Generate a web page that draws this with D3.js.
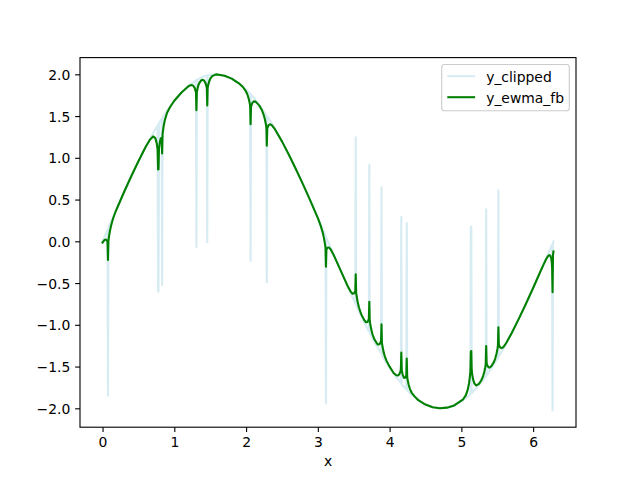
<!DOCTYPE html>
<html><head><meta charset="utf-8">
<script src="https://cdn.jsdelivr.net/npm/d3@7"></script>
<style>body{margin:0;background:#fff}svg{display:block}text{font-family:"DejaVu Sans",sans-serif}</style>
</head><body><svg id="c" width="640" height="480"></svg>
<script>
const clippedX = [0,0.0692,0.0755,0.0818,0.1,0.2,0.3,0.4,0.5,0.6,0.7,0.7673,0.7736,0.7799,0.7862,0.8,0.8239,0.8302,0.8365,0.9,1.0,1.1,1.2,1.3,1.302,1.308,1.314,1.4,1.453,1.459,1.465,1.5,1.6,1.7,1.8,1.9,2.0,2.057,2.063,2.069,2.1,2.2,2.283,2.289,2.295,2.3,2.4,2.5,2.6,2.7,2.8,2.9,3.0,3.1,3.107,3.113,3.119,3.2,3.3,3.4,3.5,3.522,3.528,3.534,3.6,3.7,3.711,3.717,3.723,3.8,3.881,3.887,3.893,3.9,4.0,4.1,4.157,4.163,4.169,4.2,4.232,4.239,4.245,4.3,4.4,4.5,4.6,4.7,4.8,4.9,5.0,5.1,5.1255,5.1318,5.1381,5.1444,5.2,5.3,5.339,5.3456,5.352,5.4,5.5,5.509,5.5157,5.522,5.6,5.7,5.8,5.9,6.0,6.1,6.2,6.2643,6.2706,6.2769,6.2832];
const clippedY = [0,0.138,-1.849,0.163,0.200,0.397,0.591,0.779,0.959,1.129,1.288,1.388,-0.603,-0.594,1.415,1.435,1.467,-0.524,1.484,1.567,1.683,1.782,1.864,1.927,1.928,-0.069,1.934,1.971,1.986,-0.012,1.989,1.995,1.999,1.983,1.948,1.893,1.819,1.768,-0.237,1.757,1.726,1.617,1.512,-0.494,1.498,1.491,1.351,1.197,1.031,0.855,0.670,0.478,0.282,0.083,0.069,-1.943,0.045,-0.117,-0.315,-0.511,-0.701,-0.742,1.245,-0.764,-0.885,-1.061,-1.078,0.915,-1.095,-1.224,-1.339,0.646,-1.363,-1.375,-1.514,-1.636,-1.695,0.293,-1.713,-1.743,-1.773,0.220,-1.784,-1.832,-1.903,-1.955,-1.987,-2.000,-1.992,-1.965,-1.918,-1.852,-1.830,0.174,0.179,-1.816,-1.766,-1.664,-1.620,0.385,-1.604,-1.545,-1.411,-1.398,0.611,-1.380,-1.263,-1.101,-0.929,-0.748,-0.559,-0.364,-0.166,-0.038,-2.025,-0.013,0];

const ewmaX = [0,0.0063,0.0314,0.0503,0.0629,0.0692,0.0755,0.0818,0.0881,0.1006,0.1195,0.1447,0.1824,0.3,0.4,0.5,0.6,0.660,0.7044,0.7358,0.7547,0.7673,0.7736,0.7799,0.7862,0.7987,0.8113,0.8239,0.8302,0.8365,0.8490,0.8679,0.8993,0.9434,1.0,1.1,1.201,1.239,1.264,1.283,1.295,1.302,1.308,1.314,1.321,1.333,1.352,1.377,1.390,1.415,1.434,1.446,1.453,1.459,1.465,1.472,1.484,1.503,1.528,1.566,1.6,1.7,1.8,1.9,1.956,1.994,2.019,2.038,2.050,2.057,2.063,2.069,2.076,2.088,2.107,2.132,2.182,2.220,2.245,2.264,2.276,2.283,2.289,2.295,2.302,2.314,2.333,2.358,2.396,2.5,2.6,2.7,2.8,2.9,3.006,3.044,3.069,3.088,3.100,3.107,3.113,3.119,3.126,3.138,3.157,3.182,3.220,3.3,3.421,3.459,3.484,3.503,3.515,3.522,3.528,3.534,3.541,3.553,3.572,3.597,3.610,3.648,3.673,3.692,3.704,3.711,3.717,3.723,3.730,3.742,3.761,3.786,3.824,3.843,3.862,3.874,3.881,3.887,3.893,3.900,3.912,3.931,3.956,3.994,4.056,4.094,4.119,4.138,4.150,4.157,4.163,4.1696,4.1822,4.2011,4.2199,4.2325,4.2388,4.2451,4.2514,4.264,4.2828,4.308,4.3457,4.4,4.5,4.6,4.7,4.8,4.9,5.025,5.063,5.088,5.107,5.119,5.1255,5.1318,5.1381,5.1444,5.1507,5.1633,5.1821,5.2073,5.245,5.2764,5.3016,5.3205,5.3331,5.3393,5.3456,5.3519,5.3582,5.3708,5.3897,5.4149,5.4526,5.4717,5.4906,5.5031,5.5094,5.5157,5.5220,5.5283,5.5409,5.5598,5.5850,5.6227,5.7,5.8,5.9,6.0,6.1,6.1448,6.1826,6.2077,6.2266,6.2392,6.2518,6.2580,6.2643,6.2706,6.2769,6.2832];
const ewmaY = [-0.016,-0.007,0.019,0.020,0.006,-0.009,-0.224,0.003,0.045,0.114,0.190,0.267,0.357,0.591,0.779,0.959,1.129,1.217,1.256,1.236,1.175,1.097,0.860,0.863,1.104,1.188,1.232,1.240,1.051,1.283,1.366,1.452,1.539,1.612,1.683,1.782,1.859,1.871,1.863,1.837,1.804,1.781,1.571,1.787,1.818,1.863,1.902,1.929,1.934,1.926,1.897,1.864,1.839,1.628,1.842,1.870,1.911,1.951,1.978,1.994,1.999,1.983,1.948,1.893,1.848,1.803,1.758,1.705,1.655,1.621,1.403,1.610,1.631,1.658,1.676,1.673,1.628,1.572,1.517,1.456,1.401,1.365,1.146,1.351,1.368,1.391,1.402,1.391,1.350,1.197,1.031,0.855,0.670,0.478,0.265,0.175,0.101,0.026,-0.037,-0.078,-0.303,-0.102,-0.089,-0.074,-0.075,-0.101,-0.163,-0.315,-0.545,-0.604,-0.627,-0.625,-0.609,-0.595,-0.395,-0.617,-0.657,-0.718,-0.790,-0.855,-0.884,-0.946,-0.970,-0.965,-0.946,-0.931,-0.725,-0.948,-0.987,-1.045,-1.113,-1.169,-1.225,-1.237,-1.230,-1.209,-1.192,-0.994,-1.216,-1.253,-1.309,-1.372,-1.429,-1.492,-1.577,-1.605,-1.607,-1.587,-1.557,-1.535,-1.331,-1.546,-1.596,-1.636,-1.632,-1.606,-1.404,-1.624,-1.658,-1.712,-1.767,-1.814,-1.854,-1.903,-1.955,-1.987,-2.000,-1.992,-1.965,-1.892,-1.842,-1.779,-1.699,-1.616,-1.563,-1.319,-1.314,-1.549,-1.592,-1.654,-1.704,-1.726,-1.708,-1.667,-1.618,-1.560,-1.507,-1.473,-1.255,-1.457,-1.477,-1.501,-1.514,-1.499,-1.447,-1.404,-1.343,-1.287,-1.251,-1.029,-1.233,-1.251,-1.271,-1.280,-1.266,-1.221,-1.101,-0.929,-0.748,-0.559,-0.364,-0.279,-0.212,-0.177,-0.165,-0.171,-0.203,-0.240,-0.310,-0.609,-0.162,-0.122];

const xTicks = [0,1,2,3,4,5,6];
const yTicks = [-2.0,-1.5,-1.0,-0.5,0.0,0.5,1.0,1.5,2.0];
const seriesNames = ["y_clipped","y_ewma_fb"];
const seriesColors = ["lightblue","green"];

const svg = d3.select("#c");
const L = 80, T = 57.6, W = 496, H = 369.6;
const fs = 13.9;

svg.append("rect").attr("width",640).attr("height",480).attr("fill","#fff");

const xmin = d3.min(clippedX), xmax = d3.max(clippedX);
const ymin = d3.min(clippedY.concat(ewmaY)), ymax = d3.max(clippedY.concat(ewmaY));
const xr = xmax - xmin, yr = ymax - ymin;
const x = d3.scaleLinear().domain([xmin - 0.05*xr, xmax + 0.05*xr]).range([L, L+W]);
const y = d3.scaleLinear().domain([ymin - 0.05*yr, ymax + 0.05*yr]).range([T+H, T]);

const line = d3.line().x(d => x(d[0])).y(d => y(d[1]));
const clipped = clippedX.map((v,i) => [v, clippedY[i]]);
const ewma = ewmaX.map((v,i) => [v, ewmaY[i]]);

svg.append("path").datum(clipped).attr("d", line)
  .attr("fill","none").attr("stroke",seriesColors[0]).attr("stroke-opacity",0.5)
  .attr("stroke-width",2.08).attr("stroke-linejoin","round").attr("stroke-linecap","square");
svg.append("path").datum(ewma).attr("d", line)
  .attr("fill","none").attr("stroke",seriesColors[1])
  .attr("stroke-width",2.08).attr("stroke-linejoin","round").attr("stroke-linecap","square");

// axes
const minus = s => s.replace("-", "\u2212");
const xAxis = d3.axisBottom(x).tickValues(xTicks).tickFormat(d => minus(String(d))).tickSize(4.86).tickPadding(4.86);
const yAxis = d3.axisLeft(y).tickValues(yTicks).tickFormat(d => minus(d3.format(".1f")(d))).tickSize(4.86).tickPadding(4.86);

const gx = svg.append("g").attr("transform",`translate(0,${T+H})`).call(xAxis);
const gy = svg.append("g").attr("transform",`translate(${L},0)`).call(yAxis);
[gx, gy].forEach(g => {
  g.select(".domain").remove();
  g.selectAll(".tick line").attr("stroke","#000").attr("stroke-width",1.11);
  g.selectAll(".tick text").attr("fill","#000").attr("font-size",fs).attr("font-family","DejaVu Sans");
});
gx.selectAll(".tick text").attr("dy", null).attr("y", 4.86+4.86+10.4);
gy.selectAll(".tick text").attr("dy", "0.36em");

svg.append("rect").attr("x",L).attr("y",T).attr("width",W).attr("height",H)
  .attr("fill","none").attr("stroke","#000").attr("stroke-width",1.11);

svg.append("text").attr("x", L + W/2).attr("y", 466).attr("text-anchor","middle")
  .attr("font-size",fs).attr("fill","#000").text("x");

// legend
const lg = svg.append("g");
lg.append("rect").attr("x",441.7).attr("y",64.5).attr("width",127.6).attr("height",46.3)
  .attr("rx",2.8).attr("fill","#fff").attr("fill-opacity",0.8).attr("stroke","#cccccc").attr("stroke-width",1.11);
seriesNames.forEach((name,i) => {
  const cy = 76.2 + i*21;
  lg.append("line").attr("x1",447.3).attr("x2",475.1).attr("y1",cy).attr("y2",cy)
    .attr("stroke",seriesColors[i]).attr("stroke-opacity", i===0?0.5:1).attr("stroke-width",2.08);
  lg.append("text").attr("x",486.2).attr("y",cy+5.4).attr("font-size",fs).attr("fill","#000").text(name);
});
</script></body></html>
